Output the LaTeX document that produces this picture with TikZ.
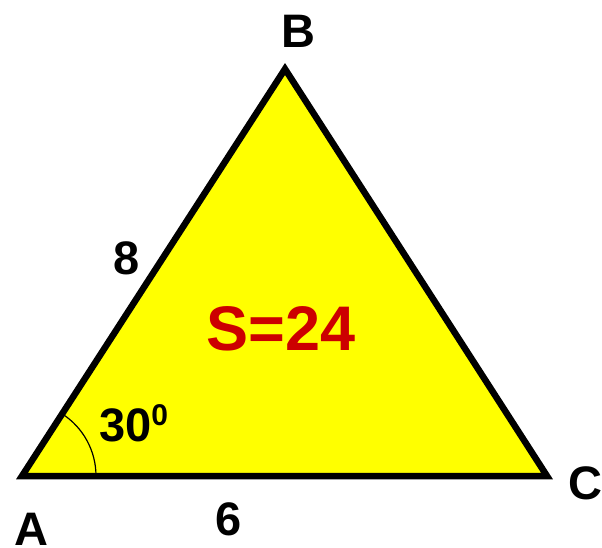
\documentclass[tikz,border=0pt]{standalone}
\usepackage{fontspec}
\setmainfont{Liberation Sans}
\usetikzlibrary{angles}
\definecolor{tri}{RGB}{255,255,0}
\definecolor{sred}{RGB}{204,0,0}
\begin{document}
\begin{tikzpicture}[x=1pt,y=1pt,
  lbl/.style={font=\fontsize{47}{56}\selectfont\bfseries, inner sep=0pt},
  big/.style={font=\fontsize{63}{75}\selectfont\bfseries, inner sep=0pt, text=sred}]
\useasboundingbox (0,0) rectangle (602,547);
\coordinate (A) at (22,71);
\coordinate (B) at (285,478);
\coordinate (C) at (547,71);
\draw[line width=6.5pt, line join=miter, fill=tri] (A) -- (B) -- (C) -- cycle;
\pic[draw, line width=1.2pt, angle radius=74pt] {angle = C--A--B};
\node[lbl] (la) at (31,18) {A};
\node[lbl] (lb) at (298,516) {B};
\node[lbl] (lc) at (585,64) {C};
\node[lbl] (l8) at (127,289) {8};
\node[lbl] (l6) at (229,28) {6};
\node[lbl, anchor=base west] (l30) at (99,106) {30\raisebox{16pt}{\fontsize{30}{32}\selectfont 0}};
\node[big] (s) at (281,218) {S=24};
\end{tikzpicture}
\end{document}
